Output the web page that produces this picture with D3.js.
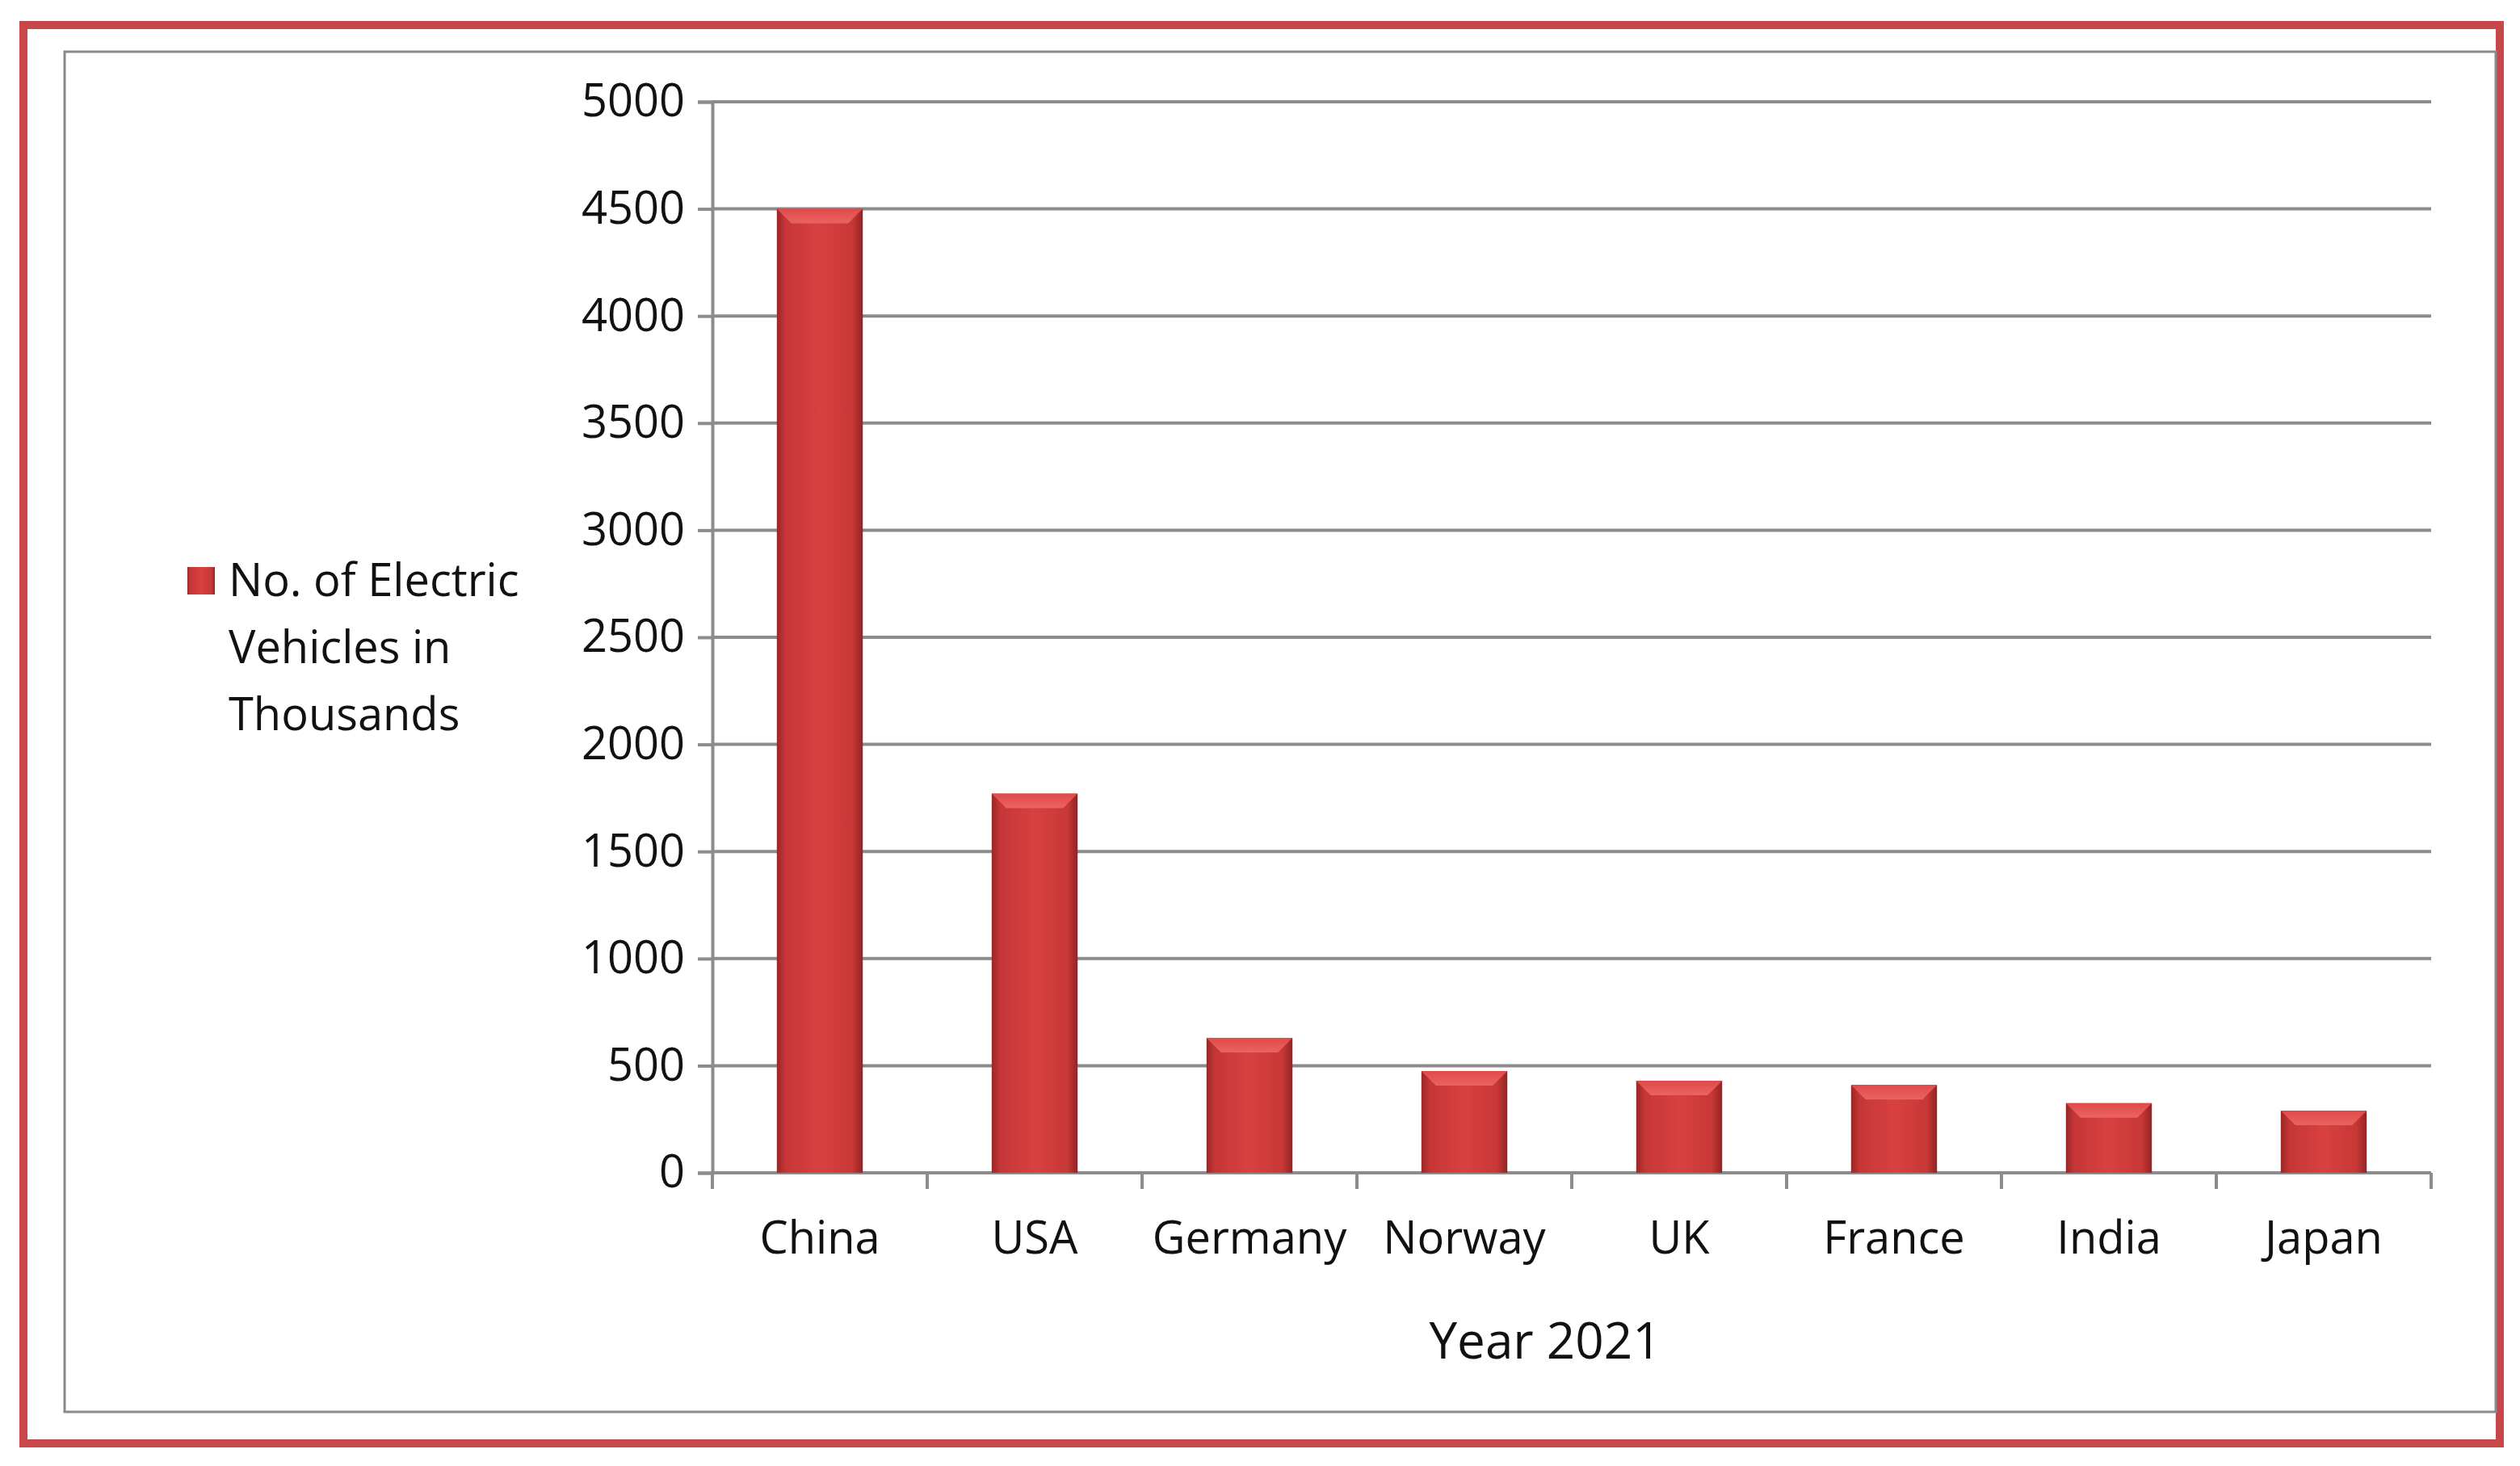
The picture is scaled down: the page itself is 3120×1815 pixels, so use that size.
<!DOCTYPE html>
<html><head><meta charset="utf-8">
<script src="https://cdn.jsdelivr.net/npm/d3@7"></script>
<style>body{margin:0;background:#fff}svg{display:block}</style>
</head><body>
<script>
const categories=["China","USA","Germany","Norway","UK","France","India","Japan"];
const values=[4500,1770,630,475,430,410,325,290];
const yTicks=[0,500,1000,1500,2000,2500,3000,3500,4000,4500,5000];
const seriesName=["No. of Electric","Vehicles in","Thousands"];
const xTitle="Year 2021";

const W=3120,H=1815;
const svg=d3.select("body").append("svg").attr("width",W).attr("height",H);
const font="'Open Sans', 'Liberation Sans', sans-serif";
svg.append("rect").attr("x",29).attr("y",31).attr("width",3066).attr("height",1756).attr("fill","none").attr("stroke","#c8474b").attr("stroke-width",10);
svg.append("rect").attr("x",80).attr("y",64).attr("width",3010).attr("height",1684).attr("fill","none").attr("stroke","#8a8a8a").attr("stroke-width",3);

const defs=svg.append("defs");
const g1=defs.append("linearGradient").attr("id","bar");
[[0,"#9a2626"],[0.1,"#c63636"],[0.5,"#d84140"],[0.88,"#c83836"],[1,"#922424"]].forEach(([o,c])=>g1.append("stop").attr("offset",o).attr("stop-color",c));
const g2=defs.append("linearGradient").attr("id","cap").attr("x1",0).attr("y1",0).attr("x2",0).attr("y2",1);
[[0,"#e04a48"],[1,"#ea6462"]].forEach(([o,c])=>g2.append("stop").attr("offset",o).attr("stop-color",c));

const x=d3.scaleBand().domain(categories).range([882,3010]).paddingInner(0.6).paddingOuter(0.3);
const y=d3.scaleLinear().domain([0,5000]).range([1452,126]);

svg.append("g").selectAll("line").data(yTicks.slice(1)).join("line")
 .attr("x1",882).attr("x2",3010).attr("y1",d=>y(d)).attr("y2",d=>y(d)).attr("stroke","#8c8c8c").attr("stroke-width",4);

const ya=svg.append("g").attr("transform","translate(882,0)").call(d3.axisLeft(y).tickValues(yTicks).tickFormat(d3.format("d")).tickSize(18).tickPadding(16));
ya.selectAll("text").attr("font-family",font).attr("font-size",56).attr("fill","#111");
ya.selectAll("line,path").attr("stroke","#8c8c8c").attr("stroke-width",4);

const step=x.step();
const xa=svg.append("g").attr("transform","translate(0,1452)").call(d3.axisBottom(x).tickSize(0).tickPadding(50));
xa.select("path").remove();
xa.selectAll("text").attr("font-family",font).attr("font-size",56).attr("fill","#111").attr("dy","0.9em");
svg.append("line").attr("x1",882).attr("x2",3010).attr("y1",1452).attr("y2",1452).attr("stroke","#8c8c8c").attr("stroke-width",4);
svg.append("g").selectAll("line").data(d3.range(categories.length+1)).join("line")
 .attr("x1",d=>882+d*step).attr("x2",d=>882+d*step).attr("y1",1452).attr("y2",1472).attr("stroke","#8c8c8c").attr("stroke-width",4);

const bars=svg.append("g").selectAll("g").data(categories).join("g");
bars.append("rect").attr("x",d=>x(d)).attr("y",(d,i)=>y(values[i])).attr("width",x.bandwidth()).attr("height",(d,i)=>y(0)-y(values[i])).attr("fill","url(#bar)");
bars.append("path").attr("d",(d,i)=>{const x0=x(d),w=x.bandwidth(),t=y(values[i]),b=18;return `M${x0},${t}L${x0+w},${t}L${x0+w-b},${t+b}L${x0+b},${t+b}Z`;}).attr("fill","url(#cap)");

svg.append("text").attr("x",1913).attr("y",1682).attr("text-anchor","middle").attr("font-family",font).attr("font-size",62).attr("fill","#111").text(xTitle);

svg.append("rect").attr("x",232).attr("y",702).attr("width",34).attr("height",34).attr("fill","url(#bar)");
svg.append("text").attr("font-family",font).attr("font-size",56).attr("fill","#111").selectAll("tspan").data(seriesName).join("tspan")
 .attr("x",283).attr("y",(d,i)=>738+i*83).text(d=>d);
</script>
</body></html>
